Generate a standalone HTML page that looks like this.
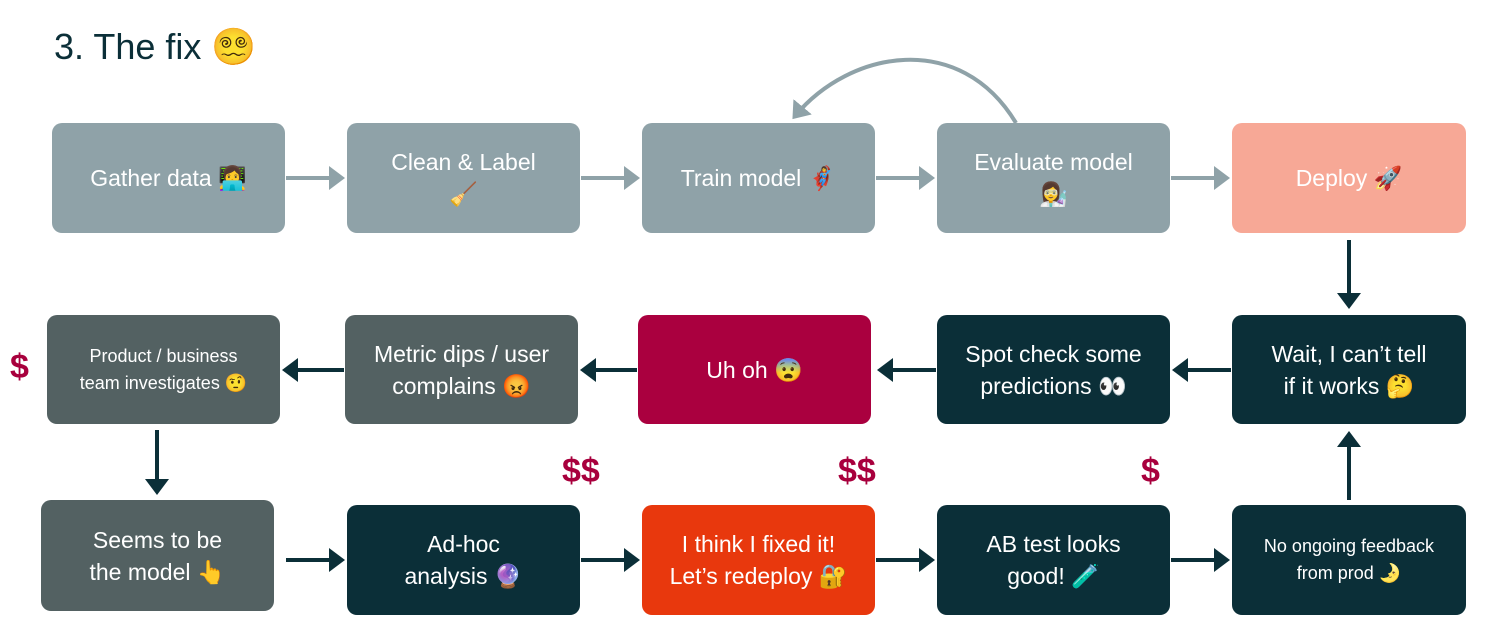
<!DOCTYPE html>
<html><head><meta charset="utf-8"><style>
body{margin:0;width:1498px;height:638px;background:#fff;position:relative;overflow:hidden;font-family:"Liberation Sans","Noto Sans CJK JP",sans-serif}
.b{position:absolute;border-radius:10px;color:#fff;display:flex;align-items:center;justify-content:center;text-align:center;font-size:23px;line-height:32px;box-sizing:border-box;padding:0 10px}
.g{background:#8fa2a8}.s{background:#f7a896}.d{background:#0b2f38}.m{background:#536162}.r{background:#aa003f}.o{background:#e8380d}
.sm{font-size:18px;line-height:27px}
.dl{position:absolute;color:#a8003d;font-weight:bold;font-size:34px}
h1{position:absolute;left:54px;top:26px;margin:0;font-weight:normal;font-size:36px;color:#0b2f38}
</style></head><body>
<h1>3. The fix 😵‍💫</h1>
<svg width="1498" height="638" style="position:absolute;left:0;top:0">
<defs>
<marker id="ag" markerWidth="6" markerHeight="6" refX="3" refY="3" orient="auto" markerUnits="strokeWidth"><path d="M0,0 L4,3 L0,6z" fill="#8fa2a8"/></marker>
<marker id="ad" markerWidth="6" markerHeight="6" refX="3" refY="3" orient="auto" markerUnits="strokeWidth"><path d="M0,0 L4,3 L0,6z" fill="#0b2f38"/></marker>
</defs>
<g stroke="#8fa2a8" stroke-width="4" fill="none" marker-end="url(#ag)">
<line x1="286" y1="178" x2="341" y2="178"/><line x1="581" y1="178" x2="636" y2="178"/><line x1="876" y1="178" x2="931" y2="178"/><line x1="1171" y1="178" x2="1226" y2="178"/>
<path d="M1016,123 C960,30 850,50 795,116"/>
</g>
<g stroke="#0b2f38" stroke-width="4" fill="none" marker-end="url(#ad)">
<line x1="1349" y1="240" x2="1349" y2="305"/>
<line x1="1231" y1="370" x2="1176" y2="370"/><line x1="936" y1="370" x2="881" y2="370"/><line x1="637" y1="370" x2="584" y2="370"/><line x1="344" y1="370" x2="286" y2="370"/>
<line x1="157" y1="430" x2="157" y2="491"/>
<line x1="286" y1="560" x2="341" y2="560"/><line x1="581" y1="560" x2="636" y2="560"/><line x1="876" y1="560" x2="931" y2="560"/><line x1="1171" y1="560" x2="1226" y2="560"/>
<line x1="1349" y1="500" x2="1349" y2="435"/>
</g>
</svg>
<div class="b g" style="left:52px;top:123px;width:233px;height:110px">Gather data 👩‍💻</div>
<div class="b g" style="left:347px;top:123px;width:233px;height:110px">Clean &amp; Label<br>🧹</div>
<div class="b g" style="left:642px;top:123px;width:233px;height:110px">Train model 🦸‍♀️</div>
<div class="b g" style="left:937px;top:123px;width:233px;height:110px">Evaluate model<br>👩‍🔬</div>
<div class="b s" style="left:1232px;top:123px;width:234px;height:110px">Deploy 🚀</div>
<div class="b m sm" style="left:47px;top:315px;width:233px;height:109px">Product / business<br>team investigates 🤨</div>
<div class="b m" style="left:345px;top:315px;width:233px;height:109px">Metric dips / user<br>complains 😡</div>
<div class="b r" style="left:638px;top:315px;width:233px;height:109px">Uh oh 😨</div>
<div class="b d" style="left:937px;top:315px;width:233px;height:109px">Spot check some<br>predictions 👀</div>
<div class="b d" style="left:1232px;top:315px;width:234px;height:109px">Wait, I can’t tell<br>if it works 🤔</div>
<div class="b m" style="left:41px;top:500px;width:233px;height:111px">Seems to be<br>the model 👆</div>
<div class="b d" style="left:347px;top:505px;width:233px;height:110px">Ad-hoc<br>analysis 🔮</div>
<div class="b o" style="left:642px;top:505px;width:233px;height:110px">I think I fixed it!<br>Let’s redeploy 🔐</div>
<div class="b d" style="left:937px;top:505px;width:233px;height:110px">AB test looks<br>good! 🧪</div>
<div class="b d sm" style="left:1232px;top:505px;width:234px;height:110px">No ongoing feedback<br>from prod 🌛</div>
<div class="dl" style="left:10px;top:348px">$</div>
<div class="dl" style="left:562px;top:452px">$$</div>
<div class="dl" style="left:838px;top:452px">$$</div>
<div class="dl" style="left:1141px;top:452px">$</div>
</body></html>
